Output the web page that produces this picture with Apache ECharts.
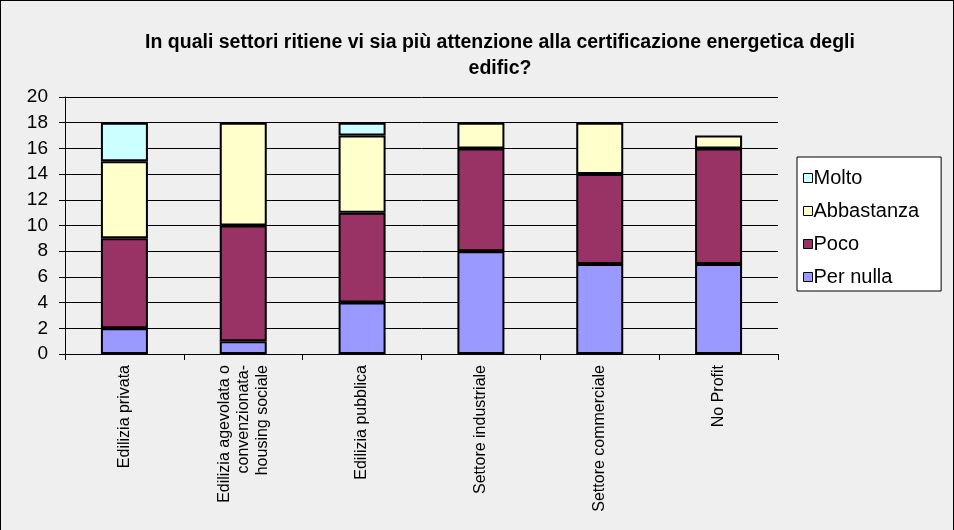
<!DOCTYPE html>
<html><head><meta charset="utf-8">
<script src="https://cdn.jsdelivr.net/npm/echarts@6/dist/echarts.min.js"></script>
<style>html,body{margin:0;padding:0;background:#efefef}#c{width:954px;height:530px;box-sizing:border-box;border:1px solid #000;border-bottom:none}</style>
</head><body><div id="c"></div>
<script>
var categories = ['Edilizia privata', 'Edilizia agevolata o\nconvenzionata-\nhousing sociale', 'Edilizia pubblica', 'Settore industriale', 'Settore commerciale', 'No Profit'];
var perNulla = [2, 1, 4, 8, 7, 7];
var poco = [7, 9, 7, 8, 7, 9];
var abbastanza = [6, 8, 6, 2, 4, 1];
var molto = [3, 0, 1, 0, 0, 0];
var yTicks = [0, 2, 4, 6, 8, 10, 12, 14, 16, 18, 20];

var chart = echarts.init(document.getElementById('c'));
function s(name, data, color) {
  return {name: name, type: 'bar', stack: 'a', barWidth: 47,
    data: data.map(function (v) { return v === 0 ? '-' : v; }),
    itemStyle: {color: color, borderColor: '#000', borderWidth: 2}};
}
chart.setOption({
  backgroundColor: '#efefef',
  animation: false,
  title: {text: 'In quali settori ritiene vi sia più attenzione alla certificazione energetica degli\nedific?',
    left: 494, top: 24, textAlign: 'center',
    textStyle: {fontFamily: 'Liberation Sans', fontWeight: 'bold', fontSize: 19.5, lineHeight: 26, color: '#000'}},
  legend: {orient: 'vertical', left: 796, top: 156, itemWidth: 9, itemHeight: 9, itemGap: 13,
    padding: [11, 22, 4, 6], borderColor: '#000', borderWidth: 1, backgroundColor: '#fff',
    data: ['Molto', 'Abbastanza', 'Poco', 'Per nulla'],
    textStyle: {fontFamily: 'Liberation Sans', fontSize: 20, color: '#000', padding: [0, 0, 0, -4]},
    itemStyle: {borderColor: '#000', borderWidth: 1}, icon: 'rect'},
  grid: {left: 64, right: 175, top: 96, bottom: 176, containLabel: false},
  xAxis: {type: 'category', data: categories,
    axisLine: {lineStyle: {color: '#000', width: 1}},
    axisTick: {show: true, length: 6, lineStyle: {color: '#000'}},
    axisLabel: {rotate: 90, interval: 0, fontFamily: 'Liberation Sans', fontSize: 16, color: '#000', margin: 11, lineHeight: 19, align: 'right'}
  },
  yAxis: {type: 'value', min: 0, max: 20, interval: 2,
    axisLine: {show: true, lineStyle: {color: '#000'}},
    axisTick: {show: true, length: 6, lineStyle: {color: '#000'}},
    splitLine: {lineStyle: {color: '#000', width: 1}},
    axisLabel: {fontFamily: 'Liberation Sans', fontSize: 19, color: '#000', margin: 17,
      formatter: function (v) { return yTicks.indexOf(v) >= 0 ? String(v) : ''; }}},
  series: [s('Per nulla', perNulla, '#9999ff'), s('Poco', poco, '#993366'), s('Abbastanza', abbastanza, '#ffffcc'), s('Molto', molto, '#ccffff')]
});
</script></body></html>
